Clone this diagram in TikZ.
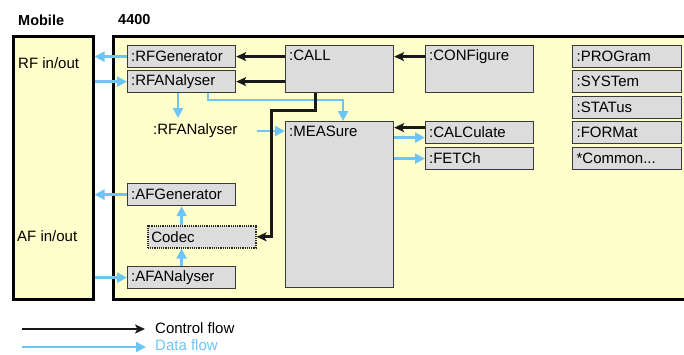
\documentclass[tikz,border=0pt]{standalone}
\usepackage{fontspec}
\setmainfont{Liberation Sans}
\usetikzlibrary{arrows.meta}
\definecolor{panelyellow}{HTML}{FFFFCC}
\definecolor{boxgray}{HTML}{DCDCDC}
\definecolor{flowblue}{HTML}{6CC5F5}
\definecolor{boxline}{HTML}{3A3A3A}
\tikzset{
  txt/.style={font=\fontsize{15}{17}\selectfont, inner sep=0pt},
  panel/.style={draw=black, line width=2.5pt, fill=panelyellow, anchor=north west, inner sep=0pt},
  box/.style={draw=boxline, line width=1.2pt, fill=boxgray, anchor=north west, inner sep=0pt,
    minimum width=108pt, minimum height=22pt, txt, text width=101pt, align=left},
  tallbox/.style={box, minimum height=47pt},
  codecbox/.style={box, draw=black!85, densely dotted, line width=1.6pt},
  ctrl/.style={draw=black!90, line width=2.4pt, -{Stealth[length=10pt,width=9pt,inset=2.5pt]}},
  data/.style={draw=flowblue, line width=2.3pt, -{Triangle[length=10pt,width=10pt]}},
}
\newcommand{\toptext}[2]{\parbox[t][#1][t]{101pt}{#2}}
\begin{document}
\begin{tikzpicture}[x=1pt,y=-1pt]
\useasboundingbox (0,0) rectangle (684,354);
\clip (0,0) rectangle (684,354);

% titles
\node[txt, font=\fontsize{14.5}{16}\selectfont\bfseries, anchor=west] (tmob) at (18,20) {Mobile};
\node[txt, font=\fontsize{14.5}{16}\selectfont\bfseries, anchor=west] (t4400) at (118,20) {4400};

% panels
\node[panel, minimum width=80pt, minimum height=263pt] (mobile) at (12,35) {};
\node[panel, minimum width=590pt, minimum height=263pt] (main) at (112,35) {};

\node[txt, anchor=west] (rfio) at (18,63) {RF in/out};
\node[txt, anchor=west] (afio) at (17,236) {AF in/out};

% boxes
\node[box] (rfg) at (127,45) {:RFGenerator};
\node[box] (rfa) at (127,70) {:RFANalyser};
\node[tallbox] (call) at (285,45) {\toptext{38pt}{:CALL}};
\node[tallbox] (conf) at (425,45) {\toptext{38pt}{:CONFigure}};
\node[box, minimum width=109pt] (prog) at (572,45) {:PROGram};
\node[box, minimum width=109pt] (syst) at (572,70) {:SYSTem};
\node[box, minimum width=109pt] (stat) at (572,96) {:STATus};
\node[box, minimum width=109pt] (form) at (572,121) {:FORMat};
\node[box, minimum width=109pt] (comm) at (572,147) {*Common...};
\node[txt, anchor=west] (rfatext) at (153,131) {:RFANalyser};
\node[box, minimum height=166pt] (meas) at (285,121) {\toptext{158pt}{:MEASure}};
\node[box] (calc) at (425,121) {:CALCulate};
\node[box] (fetch) at (425,147) {:FETCh};
\node[box] (afg) at (127,183) {:AFGenerator};
\node[codecbox] (codec) at (147,225) {Codec};
\node[box] (afa) at (127,266) {:AFANalyser};

% RF connections
\draw[data] (rfg.west) -- (rfg.west -| mobile.east);
\draw[data] (mobile.east |- rfa.west) -- (rfa.west);
\draw[ctrl] (call.west |- rfg.east) -- (rfg.east);
\draw[ctrl] (call.west |- rfa.east) -- (rfa.east);
\draw[ctrl] (conf.west |- rfg.east) -- (call.east |- rfg.east);
\coordinate (rfaout) at (178,118);
\draw[data] (rfa.south -| rfaout) -- (rfaout);
\coordinate (bend) at (208,100);
\draw[data] (rfa.south -| bend) -- (bend) -| ([xshift=3.5pt]meas.north);
\coordinate (rfatail) at (257,131);
\draw[data] (rfatail) -- (meas.west |- rfatail);
\coordinate (ctrlbend) at (271,110);
\draw[ctrl, line width=3pt] ([xshift=-24.5pt]call.south) |- (ctrlbend) |- (codec.east);

% measure connections
\draw[ctrl] ([yshift=5pt]calc.west) -- ([yshift=5pt]calc.west -| meas.east);
\draw[data] ([yshift=-5pt]calc.west -| meas.east) -- ([yshift=-5pt]calc.west);
\draw[data] (meas.east |- fetch.west) -- (fetch.west);

% AF connections
\draw[data] (afg.west) -- (afg.west -| mobile.east);
\draw[data] (afg.south |- codec.north) -- (afg.south);
\draw[data] (afa.north) -- (afa.north |- codec.south);
\draw[data] (mobile.east |- afa.west) -- (afa.west);

% legend
\coordinate (lc1) at (22,329);
\coordinate (lc2) at (145,329);
\coordinate (ld1) at (22,347);
\coordinate (ld2) at (146,347);
\draw[ctrl] (lc1) -- (lc2);
\draw[data] (ld1) -- (ld2);
\node[txt, anchor=west] (lctext) at (155,328) {Control flow};
\node[txt, anchor=west, text=flowblue] (ldtext) at (155,345) {Data flow};
\end{tikzpicture}
\end{document}
